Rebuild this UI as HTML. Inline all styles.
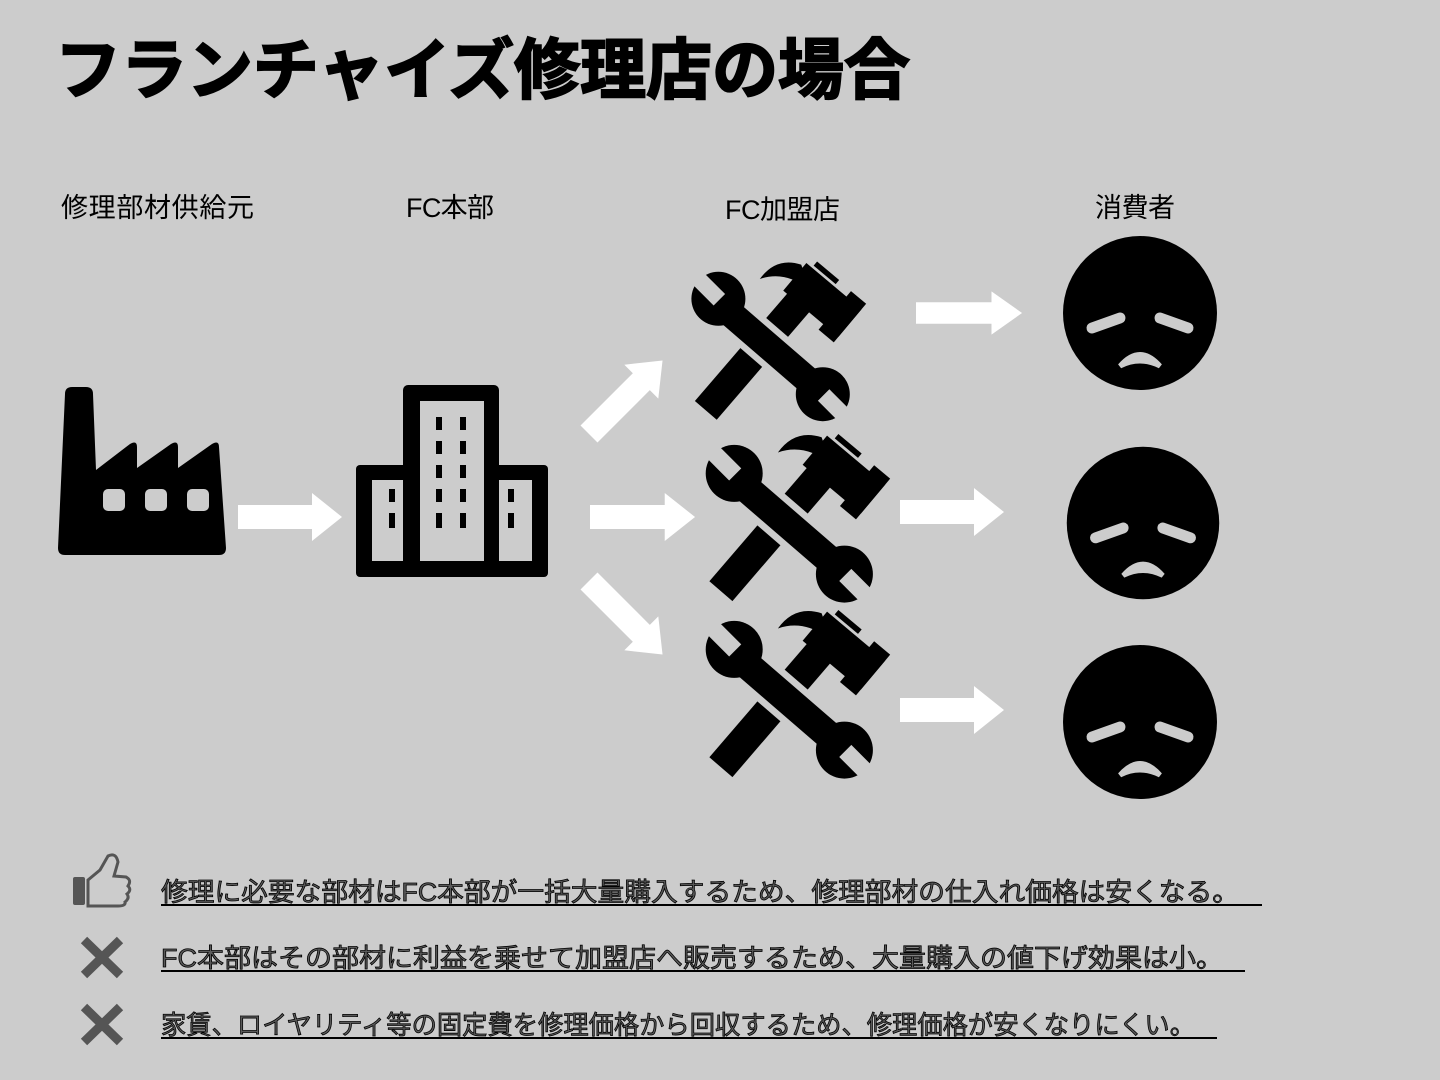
<!DOCTYPE html>
<html><head><meta charset="utf-8"><style>
html,body{margin:0;padding:0;background:#cccccc;}
svg{display:block;}
text{font-family:"Liberation Sans","Noto Sans CJK JP",sans-serif;}
</style></head><body>
<svg width="1440" height="1080" viewBox="0 0 1440 1080" xmlns="http://www.w3.org/2000/svg">
<defs>
<g id="arr"><polygon points="0,-12 74,-12 74,-24 104,0 74,24 74,12 0,12" fill="#fff"/></g>
<g id="tool">
  <line x1="22" y1="176" x2="132" y2="48" stroke="#000" stroke-width="32"/>
  <line x1="40" y1="60" x2="150" y2="155" stroke="#ccc" stroke-width="44"/>
  <line x1="40" y1="60" x2="150" y2="155" stroke="#000" stroke-width="30"/>
  <circle cx="36" cy="52" r="30" fill="#000"/>
  <circle cx="152" cy="158" r="30" fill="#000"/>
  <rect x="-9" y="-30" width="18" height="40" fill="#ccc" transform="translate(30,46) rotate(-45)"/>
  <rect x="-9" y="-10" width="18" height="40" fill="#ccc" transform="translate(160,166) rotate(-45)"/>
  <g transform="translate(150,52) rotate(40)">
    <rect x="-38" y="-20" width="80" height="40" fill="#000"/>
    <rect x="20" y="-28" width="22" height="56" fill="#000"/>
    <rect x="-30" y="-29" width="32" height="6" fill="#000"/>
  </g>
  <path d="M82,30 Q100,5 128,14 L138,42 Q110,20 82,30 Z" fill="#000"/>
</g>
<g id="face">
  <circle r="77" fill="#000"/>
  <line x1="-48" y1="15" x2="-20" y2="5" stroke="#ccc" stroke-width="11" stroke-linecap="round"/>
  <line x1="20" y1="5" x2="48" y2="15" stroke="#ccc" stroke-width="11" stroke-linecap="round"/>
  <path d="M-20,53 Q0,30 20,53 Q0,43 -20,53 Z" fill="#ccc" stroke="#ccc" stroke-width="5"/>
</g>
</defs>

<text x="55" y="93" font-size="66" font-weight="bold" fill="#000" stroke="#000" stroke-width="2" textLength="855" lengthAdjust="spacingAndGlyphs">フランチャイズ修理店の場合</text>

<text x="61" y="217" font-size="27" fill="#000" textLength="193">修理部材供給元</text>
<text x="406" y="217" font-size="27" fill="#000" textLength="88">FC本部</text>
<text x="725" y="219" font-size="27" fill="#000" textLength="115">FC加盟店</text>
<text x="1095" y="217" font-size="27" fill="#000" textLength="80">消費者</text>

<!-- factory -->
<path d="M65,394 Q65,387 72,387 L86,387 Q93,387 93,394 L96,470 L130,444 Q137,440 137,447 L137,468 L171,444 Q178,440 178,447 L178,468 L212,444 Q219,440 219,447 L226,548 Q226,555 219,555 L65,555 Q58,555 58,548 Z" fill="#000"/>
<rect x="103" y="489" width="22" height="22" rx="5" fill="#ccc"/>
<rect x="145" y="489" width="22" height="22" rx="5" fill="#ccc"/>
<rect x="187" y="489" width="22" height="22" rx="5" fill="#ccc"/>

<!-- building -->
<rect x="403" y="385" width="96" height="192" rx="5" fill="#000"/>
<rect x="356" y="465" width="192" height="112" rx="4" fill="#000"/>
<rect x="420" y="401" width="64" height="160" fill="#ccc"/>
<rect x="372" y="480" width="31" height="81" fill="#ccc"/>
<rect x="499" y="480" width="33" height="81" fill="#ccc"/>
<g fill="#000">
<rect x="436" y="417" width="6" height="13"/><rect x="460" y="417" width="6" height="13"/>
<rect x="436" y="441" width="6" height="13"/><rect x="460" y="441" width="6" height="13"/>
<rect x="436" y="465" width="6" height="13"/><rect x="460" y="465" width="6" height="13"/>
<rect x="436" y="489" width="6" height="13"/><rect x="460" y="489" width="6" height="13"/>
<rect x="436" y="513" width="6" height="15"/><rect x="460" y="513" width="6" height="15"/>
<rect x="389" y="489" width="6" height="13"/><rect x="389" y="513" width="6" height="15"/>
<rect x="508" y="489" width="6" height="13"/><rect x="508" y="513" width="6" height="15"/>
</g>

<!-- arrows -->
<use href="#arr" transform="translate(238,517)"/>
<use href="#arr" transform="translate(590,517) scale(1.01,1)"/>
<use href="#arr" transform="translate(589,434) rotate(-45)"/>
<use href="#arr" transform="translate(589,581) rotate(45)"/>
<use href="#arr" transform="translate(916,313) scale(1.02,0.9)"/>
<use href="#arr" transform="translate(900,512)"/>
<use href="#arr" transform="translate(900,710)"/>

<!-- tools -->
<use href="#tool" transform="translate(686,252) scale(0.9)"/>
<use href="#tool" transform="translate(700,424) scale(0.95)"/>
<use href="#tool" transform="translate(700,600) scale(0.95)"/>

<!-- faces -->
<use href="#face" transform="translate(1140,313)"/>
<use href="#face" transform="translate(1143,523) scale(0.99)"/>
<use href="#face" transform="translate(1140,722)"/>

<!-- bottom -->
<g fill="#555">
  <rect x="73" y="877" width="12" height="28" rx="2"/>
  <path d="M88,880 L100,870 L108,856 Q116,852 118,862 L114,876 L126,877 Q132,880 128,886 Q132,890 127,894 Q130,898 125,902 Q126,906 118,906 L88,906 Z" fill="none" stroke="#555" stroke-width="3"/>
</g>
<g stroke="#555" stroke-width="9">
  <line x1="84" y1="940" x2="120" y2="975"/><line x1="120" y1="940" x2="84" y2="975"/>
  <line x1="84" y1="1007" x2="120" y2="1042"/><line x1="120" y1="1007" x2="84" y2="1042"/>
</g>
<g font-size="26" fill="#5a5a5a" stroke="#000" stroke-width="0.8">
<text x="161" y="901" textLength="1078" lengthAdjust="spacingAndGlyphs">修理に必要な部材はFC本部が一括大量購入するため、修理部材の仕入れ価格は安くなる。</text>
<text x="161" y="967" textLength="1062" lengthAdjust="spacingAndGlyphs">FC本部はその部材に利益を乗せて加盟店へ販売するため、大量購入の値下げ効果は小。</text>
<text x="161" y="1034" textLength="1034" lengthAdjust="spacingAndGlyphs">家賃、ロイヤリティ等の固定費を修理価格から回収するため、修理価格が安くなりにくい。</text>
</g>
<g stroke="#000" stroke-width="2">
<line x1="161" y1="905" x2="1262" y2="905"/>
<line x1="161" y1="971" x2="1245" y2="971"/>
<line x1="161" y1="1038" x2="1217" y2="1038"/>
</g>
</svg>
</body></html>
